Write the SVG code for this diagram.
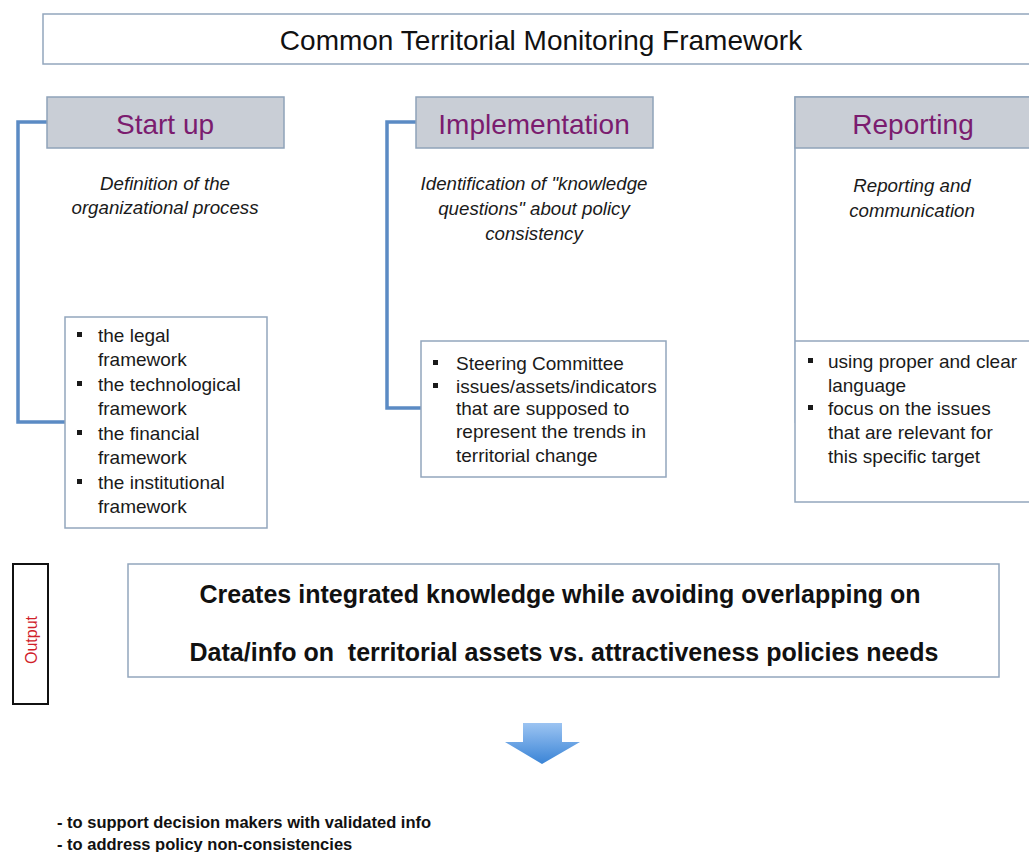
<svg xmlns="http://www.w3.org/2000/svg" width="1029" height="852" viewBox="0 0 1029 852">
<style>
  text { font-family: "Liberation Sans", Arial, sans-serif; fill: #111; }
  .frame { fill: #ffffff; stroke: #93a6bd; stroke-width: 1.5; }
  .hdr { fill: #c9ced6; stroke: #8fa3b9; stroke-width: 1.5; }
  .hdrtxt { font-size: 28px; fill: #7b1c6f; text-anchor: middle; }
  .desc { font-size: 18.7px; font-style: italic; text-anchor: middle; fill: #1a1a1a; }
  .item { font-size: 19px; fill: #1a1a1a; }
  .bul { fill: #1a1a1a; }
  .conn { fill: none; stroke: #5b8bc4; stroke-width: 3.5; }
  .big { font-size: 25px; font-weight: bold; text-anchor: middle; fill: #111; }
  .foot { font-size: 16.5px; font-weight: bold; fill: #111; }
</style>
<defs>
  <linearGradient id="arrowGrad" x1="0" y1="0" x2="0" y2="1">
    <stop offset="0" stop-color="#9cc4f2"/>
    <stop offset="1" stop-color="#3a84d6"/>
  </linearGradient>
</defs>
<rect width="1029" height="852" fill="#ffffff"/>

<g id="title">
  <rect class="frame" x="43" y="14" width="1000" height="50"/>
  <text x="541" y="50" font-size="28" text-anchor="middle">Common Territorial Monitoring Framework</text>
</g>

<g id="connectors">
  <polyline class="conn" points="47,122 18,122 18,422 65,422"/>
  <polyline class="conn" points="416,122 387,122 387,408 421,408"/>
  <line class="conn" x1="796.5" y1="123" x2="796.5" y2="423"/>
</g>

<g id="startup">
  <rect class="hdr" x="47" y="97" width="237" height="51"/>
  <text class="hdrtxt" x="165" y="134">Start up</text>
  <text class="desc" x="165" y="190">Definition of the</text>
  <text class="desc" x="165" y="214">organizational process</text>
</g>

<g id="startup-list">
  <rect class="frame" x="65" y="317" width="202" height="211"/>
  <rect class="bul" x="77" y="332" width="5" height="5"/>
  <rect class="bul" x="77" y="381" width="5" height="5"/>
  <rect class="bul" x="77" y="430" width="5" height="5"/>
  <rect class="bul" x="77" y="479" width="5" height="5"/>
  <text class="item" x="98" y="342">the legal</text>
  <text class="item" x="98" y="366">framework</text>
  <text class="item" x="98" y="391">the technological</text>
  <text class="item" x="98" y="415">framework</text>
  <text class="item" x="98" y="440">the financial</text>
  <text class="item" x="98" y="464">framework</text>
  <text class="item" x="98" y="489">the institutional</text>
  <text class="item" x="98" y="513">framework</text>
</g>

<g id="implementation">
  <rect class="hdr" x="416" y="97" width="237" height="51"/>
  <text class="hdrtxt" x="534" y="134">Implementation</text>
  <text class="desc" x="534" y="190">Identification of "knowledge</text>
  <text class="desc" x="534" y="215">questions" about policy</text>
  <text class="desc" x="534" y="240">consistency</text>
</g>

<g id="implementation-list">
  <rect class="frame" x="421" y="341" width="245" height="136"/>
  <rect class="bul" x="433" y="360" width="5" height="5"/>
  <rect class="bul" x="433" y="383" width="5" height="5"/>
  <text class="item" x="456" y="370">Steering Committee</text>
  <text class="item" x="456" y="393">issues/assets/indicators</text>
  <text class="item" x="456" y="415">that are supposed to</text>
  <text class="item" x="456" y="438">represent the trends in</text>
  <text class="item" x="456" y="462">territorial change</text>
</g>

<g id="reporting">
  <rect class="frame" x="795" y="97" width="250" height="405"/>
  <line x1="795" y1="341" x2="1040" y2="341" stroke="#93a6bd" stroke-width="1.5"/>
  <rect class="hdr" x="795" y="97" width="250" height="51"/>
  <text class="hdrtxt" x="913" y="134">Reporting</text>
  <text class="desc" x="912" y="192">Reporting and</text>
  <text class="desc" x="912" y="217">communication</text>
  <rect class="bul" x="808" y="358" width="5" height="5"/>
  <rect class="bul" x="808" y="405" width="5" height="5"/>
  <text class="item" x="828" y="368">using proper and clear</text>
  <text class="item" x="828" y="392">language</text>
  <text class="item" x="828" y="415">focus on the issues</text>
  <text class="item" x="828" y="439">that are relevant for</text>
  <text class="item" x="828" y="463">this specific target</text>
</g>

<g id="output-label">
  <rect x="13" y="564" width="35" height="140" fill="#ffffff" stroke="#111" stroke-width="2"/>
  <text x="0" y="0" font-size="16" fill="#d0202a" text-anchor="middle" transform="translate(37,640) rotate(-90)" style="fill:#d0202a">Output</text>
</g>

<g id="output">
  <rect class="frame" x="128" y="564" width="871" height="113"/>
  <text class="big" x="560" y="603">Creates integrated knowledge while avoiding overlapping on</text>
  <text class="big" x="564" y="661" xml:space="preserve">Data/info on  territorial assets vs. attractiveness policies needs</text>
</g>

<g id="arrow">
  <polygon points="523,723 562,723 562,742 580,742 542,764 505,742 523,742" fill="url(#arrowGrad)"/>
</g>

<g id="results">
  <text class="foot" x="57" y="828">- to support decision makers with validated info</text>
  <text class="foot" x="57" y="850">- to address policy non-consistencies</text>
</g>
</svg>
